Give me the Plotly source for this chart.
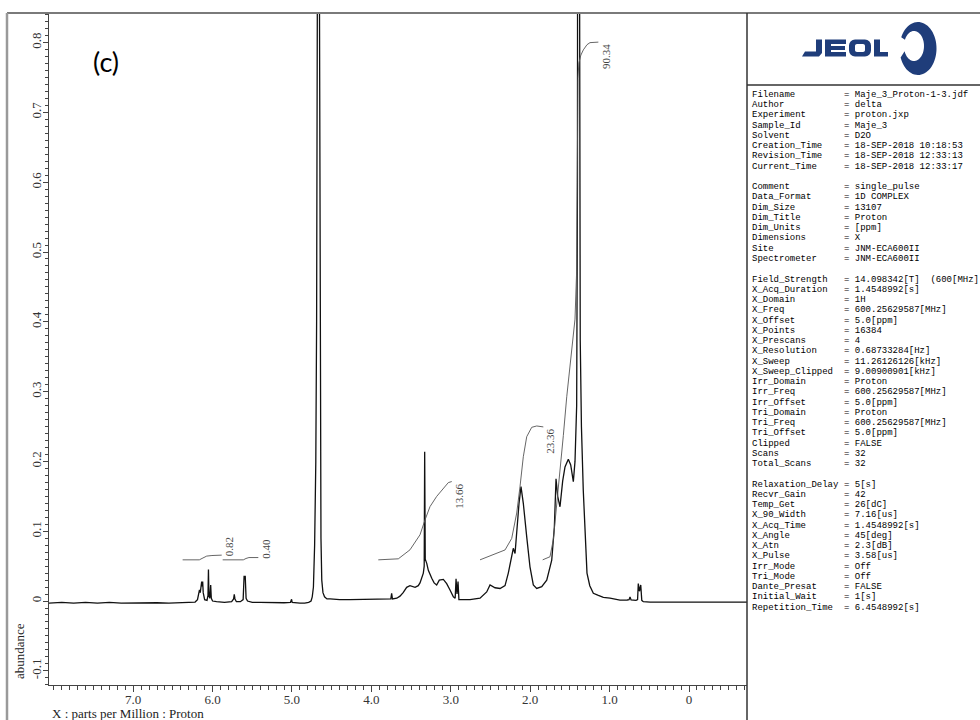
import numpy as np
import plotly.graph_objects as go

# ---------------------------------------------------------------- data
# 1H spectrum (ppm, abundance)
spectrum = [
    (8.06, -0.003), (7.9, -0.002), (7.75, -0.003), (7.6, -0.002), (7.45, -0.003),
    (7.3, -0.002), (7.15, -0.003), (7.0, -0.0025), (6.85, -0.003), (6.7, -0.0025),
    (6.55, -0.003), (6.4, -0.0025), (6.3, -0.002), (6.22, -0.0015), (6.19, 0.002),
    (6.175, 0.012), (6.165, 0.016), (6.155, 0.012), (6.145, 0.022), (6.137, 0.028),
    (6.131, 0.021), (6.125, 0.028), (6.118, 0.012), (6.10, 0.002), (6.07, 0.001),
    (6.058, 0.008), (6.052, 0.045), (6.046, 0.008), (6.035, 0.004), (6.024, 0.023),
    (6.016, 0.004), (6.0, 0.0), (5.95, -0.001), (5.85, -0.002), (5.76, -0.001),
    (5.735, 0.003), (5.727, 0.0095), (5.718, 0.003), (5.70, -0.001), (5.65, -0.001),
    (5.615, 0.002), (5.603, 0.036), (5.596, 0.031), (5.589, 0.036), (5.578, 0.004),
    (5.56, 0.0), (5.5, -0.002), (5.4, -0.002), (5.3, -0.0025), (5.2, -0.002),
    (5.1, -0.0025), (5.02, -0.002), (5.005, 0.0025), (4.998, -0.002), (4.95, -0.003),
    (4.9, -0.003), (4.84, -0.003), (4.79, -0.002), (4.76, 0.0), (4.745, 0.006),
    (4.73, 0.02), (4.715, 0.08), (4.70, 0.2), (4.69, 0.4), (4.68, 0.9),
    (4.665, 3.0), (4.655, 0.9), (4.645, 0.3), (4.635, 0.09), (4.625, 0.03),
    (4.61, 0.012), (4.59, 0.006), (4.56, 0.003), (4.52, 0.003), (4.4, 0.002),
    (4.27, 0.002), (4.1, 0.002), (3.95, 0.002), (3.83, 0.002), (3.766, 0.003),
    (3.755, 0.003), (3.745, 0.011), (3.735, 0.003), (3.68, 0.004), (3.64, 0.007),
    (3.60, 0.012), (3.556, 0.0196), (3.514, 0.022), (3.476, 0.021), (3.45, 0.0196),
    (3.41, 0.022), (3.388, 0.026), (3.346, 0.040), (3.335, 0.05), (3.329, 0.214),
    (3.322, 0.06), (3.303, 0.054), (3.283, 0.044), (3.24, 0.0325), (3.21, 0.026),
    (3.178, 0.023), (3.145, 0.030), (3.094, 0.031), (3.052, 0.025), (3.01, 0.0158),
    (2.968, 0.006), (2.945, 0.004), (2.934, 0.032), (2.922, 0.01), (2.909, 0.028),
    (2.898, 0.002), (2.884, 0.002), (2.758, 0.002), (2.632, 0.004), (2.548, 0.013),
    (2.506, 0.023), (2.443, 0.019), (2.38, 0.018), (2.317, 0.022), (2.276, 0.04),
    (2.233, 0.068), (2.213, 0.0755), (2.191, 0.068), (2.17, 0.10), (2.141, 0.14),
    (2.116, 0.164), (2.087, 0.14), (2.044, 0.092), (2.003, 0.049), (1.961, 0.023),
    (1.918, 0.018), (1.855, 0.0205), (1.792, 0.030), (1.729, 0.0587), (1.696, 0.106),
    (1.675, 0.175), (1.654, 0.150), (1.625, 0.135), (1.591, 0.172), (1.562, 0.192),
    (1.52, 0.203), (1.49, 0.195), (1.457, 0.171), (1.436, 0.20), (1.415, 0.28),
    (1.405, 0.6), (1.395, 3.0), (1.38, 1.0), (1.37, 0.374), (1.355, 0.25),
    (1.332, 0.159), (1.31, 0.10), (1.30, 0.06), (1.285, 0.04), (1.25, 0.022),
    (1.205, 0.011), (1.142, 0.008), (1.079, 0.0053), (0.995, 0.004), (0.87, 0.0014),
    (0.78, 0.0015), (0.755, 0.002), (0.743, 0.006), (0.73, 0.0015), (0.668, 0.001),
    (0.648, 0.002), (0.639, 0.025), (0.624, 0.014), (0.608, 0.023), (0.595, 0.001),
    (0.576, -0.001), (0.49, -0.0015), (0.3, -0.0015), (0.0, -0.0015), (-0.3, -0.0015),
    (-0.73, -0.0015),
]

# integrals: stated value, ppm positions and the normalised running shape
integral_values = [0.82, 0.40, 13.66, 23.36, 90.34]
integral_ppm = [
    [6.377, 6.167, 6.121, 6.074, 6.008, 5.885],
    [5.873, 5.613, 5.579, 5.542, 5.424],
    [3.913, 3.661, 3.514, 3.388, 3.325, 3.262, 3.178, 3.094, 3.031, 2.988],
    [2.632, 2.465, 2.317, 2.233, 2.17, 2.128, 2.087, 2.044, 1.981, 1.918, 1.835],
    [1.843, 1.751, 1.709, 1.666, 1.625, 1.583, 1.54, 1.499, 1.457, 1.436,
     1.417, 1.405, 1.399, 1.387, 1.362, 1.331, 1.285, 1.247, 1.142],
]
integral_shape = [
    [0, 0, 0.4, 0.8, 0.92, 1.0],
    [0, 0, 0.6, 1.0, 1.0],
    [0, 0.013, 0.128, 0.32, 0.51, 0.68, 0.81, 0.915, 0.987, 1.0],
    [0, 0.037, 0.074, 0.16, 0.35, 0.55, 0.77, 0.92, 0.99, 1.0, 0.993],
    [0, 0.006, 0.039, 0.103, 0.164, 0.24, 0.315, 0.38, 0.44, 0.465,
     0.55, 0.8, 0.93, 0.96, 0.975, 0.985, 0.995, 0.999, 1.0],
]
integral_base = 0.059        # abundance level where integral traces start
integral_scale = 0.00821     # abundance per integral unit

x_tick_vals = [7.0, 6.0, 5.0, 4.0, 3.0, 2.0, 1.0, 0.0]
x_tick_text = ["7.0", "6.0", "5.0", "4.0", "3.0", "2.0", "1.0", "0"]
y_tick_vals = [-0.1, 0.0, 0.1, 0.2, 0.3, 0.4, 0.5, 0.6, 0.7, 0.8]
y_tick_text = ["-0.1", "0", "0.1", "0.2", "0.3", "0.4", "0.5", "0.6", "0.7", "0.8"]

# acquisition parameters, in their printed groups
params_file = [
    ("Filename", "Maje_3_Proton-1-3.jdf"),
    ("Author", "delta"),
    ("Experiment", "proton.jxp"),
    ("Sample_Id", "Maje_3"),
    ("Solvent", "D2O"),
    ("Creation_Time", "18-SEP-2018 10:18:53"),
    ("Revision_Time", "18-SEP-2018 12:33:13"),
    ("Current_Time", "18-SEP-2018 12:33:17"),
]
params_data = [
    ("Comment", "single_pulse"),
    ("Data_Format", "1D COMPLEX"),
    ("Dim_Size", "13107"),
    ("Dim_Title", "Proton"),
    ("Dim_Units", "[ppm]"),
    ("Dimensions", "X"),
    ("Site", "JNM-ECA600II"),
    ("Spectrometer", "JNM-ECA600II"),
]
params_acq = [
    ("Field_Strength", "14.098342[T]\u00a0\u00a0(600[MHz]"),
    ("X_Acq_Duration", "1.4548992[s]"),
    ("X_Domain", "1H"),
    ("X_Freq", "600.25629587[MHz]"),
    ("X_Offset", "5.0[ppm]"),
    ("X_Points", "16384"),
    ("X_Prescans", "4"),
    ("X_Resolution", "0.68733284[Hz]"),
    ("X_Sweep", "11.26126126[kHz]"),
    ("X_Sweep_Clipped", "9.00900901[kHz]"),
    ("Irr_Domain", "Proton"),
    ("Irr_Freq", "600.25629587[MHz]"),
    ("Irr_Offset", "5.0[ppm]"),
    ("Tri_Domain", "Proton"),
    ("Tri_Freq", "600.25629587[MHz]"),
    ("Tri_Offset", "5.0[ppm]"),
    ("Clipped", "FALSE"),
    ("Scans", "32"),
    ("Total_Scans", "32"),
]
params_pulse = [
    ("Relaxation_Delay", "5[s]"),
    ("Recvr_Gain", "42"),
    ("Temp_Get", "26[dC]"),
    ("X_90_Width", "7.16[us]"),
    ("X_Acq_Time", "1.4548992[s]"),
    ("X_Angle", "45[deg]"),
    ("X_Atn", "2.3[dB]"),
    ("X_Pulse", "3.58[us]"),
    ("Irr_Mode", "Off"),
    ("Tri_Mode", "Off"),
    ("Dante_Presat", "FALSE"),
    ("Initial_Wait", "1[s]"),
    ("Repetition_Time", "6.4548992[s]"),
]

# ---------------------------------------------------------------- layout geometry
W, H = 980, 720
PLOT_L, PLOT_R, PLOT_T, PLOT_B = 49, 747, 13, 685
X_RANGE = [8.06, -0.73]
Y_RANGE = [-0.1203, 0.8424]

SERIF = "Liberation Serif, Times New Roman, serif"
MONO = "Liberation Mono, Courier New, monospace"
NAVY = "#1f3d7a"


def fx(px):
    return (px - PLOT_L) / (PLOT_R - PLOT_L)


def fy(py):
    return (PLOT_B - py) / (PLOT_B - PLOT_T)


def path_from_pixels(points):
    parts = []
    for i, (px, py) in enumerate(points):
        parts.append(("M" if i == 0 else "L") + f"{fx(px):.5f},{fy(py):.5f}")
    return " ".join(parts) + " Z"


fig = go.Figure()

ppm, abundance = zip(*spectrum)
fig.add_trace(go.Scatter(x=list(ppm), y=list(abundance), mode="lines",
                         line=dict(color="#111111", width=1.3),
                         hoverinfo="skip"))

annotations = []
for value, xs, shape in zip(integral_values, integral_ppm, integral_shape):
    ys = [integral_base + f * value * integral_scale for f in shape]
    fig.add_trace(go.Scatter(x=xs, y=ys, mode="lines",
                             line=dict(color="#555555", width=0.9),
                             hoverinfo="skip"))
    annotations.append(dict(
        x=xs[-1], y=ys[-1], xref="x", yref="y", text=f"{value:.2f}",
        showarrow=False, textangle=-90, xanchor="center",
        yanchor="bottom" if value < 1 else "top", xshift=7,
        yshift=-3 if value < 1 else 0,
        font=dict(family=SERIF, size=11, color="#444444")))

# ---------------------------------------------------------------- texts
annotations.append(dict(x=fx(91), y=fy(62), xref="paper", yref="paper",
                        text="(c)", showarrow=False, xanchor="left",
                        yanchor="middle",
                        font=dict(family="Lato, Open Sans, sans-serif",
                                  size=27, color="#000000")))
annotations.append(dict(x=fx(50), y=fy(713), xref="paper", yref="paper",
                        text="X : parts per Million : Proton", showarrow=False,
                        xanchor="left", yanchor="middle",
                        font=dict(family=SERIF, size=13, color="#222222")))
annotations.append(dict(x=fx(19), y=fy(651), xref="paper", yref="paper",
                        text="abundance", showarrow=False, textangle=-90,
                        xanchor="center", yanchor="middle",
                        font=dict(family=SERIF, size=13, color="#222222")))

line_step = 10.25
line_y0 = 95.0
row = 0
for group in (params_file, params_data, params_acq, params_pulse):
    for key, val in group:
        py = line_y0 + row * line_step
        annotations.append(dict(x=fx(750), y=fy(py), xref="paper", yref="paper",
                                text=key, showarrow=False, xanchor="left",
                                yanchor="middle",
                                font=dict(family=MONO, size=9, color="#000000")))
        annotations.append(dict(x=fx(842), y=fy(py), xref="paper", yref="paper",
                                text="= " + val, showarrow=False, xanchor="left",
                                yanchor="middle",
                                font=dict(family=MONO, size=9, color="#000000")))
        row += 1
    row += 1

# ---------------------------------------------------------------- frame & logo
shapes = [
    dict(type="line", xref="paper", yref="paper", x0=fx(7), x1=fx(980),
         y0=fy(13), y1=fy(13), line=dict(color="#7a7a7a", width=2)),
    dict(type="line", xref="paper", yref="paper", x0=fx(7), x1=fx(7),
         y0=fy(13), y1=fy(720), line=dict(color="#9a9a9a", width=2.5)),
    dict(type="line", xref="paper", yref="paper", x0=fx(747), x1=fx(747),
         y0=fy(13), y1=fy(720), line=dict(color="#333333", width=1.5)),
    dict(type="line", xref="paper", yref="paper", x0=fx(747), x1=fx(980),
         y0=fy(85), y1=fy(85), line=dict(color="#333333", width=1.5)),
]

logo_letters = [
    # J
    [(816, 39.5), (822, 39.5), (822, 53), (819, 56.5), (802, 56.5), (805, 51.5), (816, 51.5)],
    # E
    [(825, 39.5), (846, 39.5), (846, 44), (831, 44), (831, 46), (845, 46), (845, 50),
     (831, 50), (831, 52), (846, 52), (846, 56.5), (825, 56.5)],
    # L
    [(874, 39.5), (880, 39.5), (880, 52), (888, 52), (888, 56.5), (874, 56.5)],
]
for poly in logo_letters:
    shapes.append(dict(type="path", xref="paper", yref="paper",
                       path=path_from_pixels(poly), fillcolor=NAVY,
                       line=dict(width=0)))


def rounded_rect(x0, y0, x1, y1, r, reverse=False):
    pts = []
    corners = [(x1 - r, y0 + r, -90, 0), (x1 - r, y1 - r, 0, 90),
               (x0 + r, y1 - r, 90, 180), (x0 + r, y0 + r, 180, 270)]
    for cx, cy, a0, a1 in corners:
        for a in np.linspace(a0, a1, 5):
            pts.append((cx + r * np.cos(np.radians(a)), cy + r * np.sin(np.radians(a))))
    return pts[::-1] if reverse else pts


o_outer = rounded_rect(849, 39.5, 871, 56.5, 6)
o_inner = rounded_rect(855, 44, 865, 52, 2, reverse=True)
shapes.append(dict(type="path", xref="paper", yref="paper",
                   path=path_from_pixels(o_outer) + " " + path_from_pixels(o_inner),
                   fillcolor=NAVY, line=dict(width=0)))

# swirl mark: open ring, thin at the upper left, heavy on the right
t_out = np.radians(np.linspace(155, -160, 60))
t_in = np.radians(np.linspace(-160, 155, 60))
ring = [(918 + 18.5 * np.cos(t), 48.5 - 26.5 * np.sin(t)) for t in t_out]
ring += [(914 + 10 * np.cos(t), 46 - 15 * np.sin(t)) for t in t_in]
shapes.append(dict(type="path", xref="paper", yref="paper",
                   path=path_from_pixels(ring), fillcolor=NAVY,
                   line=dict(width=0)))

# ---------------------------------------------------------------- axes
axis_common = dict(showgrid=False, zeroline=False, showline=True,
                   linecolor="#444444", linewidth=1, ticks="outside",
                   tickcolor="#444444", tickwidth=1, tickmode="array",
                   tickfont=dict(family=SERIF, size=13, color="#333333"))

fig.update_layout(
    width=W, height=H, autosize=False,
    margin=dict(l=PLOT_L, r=W - PLOT_R, t=PLOT_T, b=H - PLOT_B, pad=0),
    paper_bgcolor="white", plot_bgcolor="white",
    showlegend=False, hovermode=False,
    xaxis=dict(range=X_RANGE, tickvals=x_tick_vals, ticktext=x_tick_text,
               ticklen=6, ticklabelstandoff=-4,
               minor=dict(tickmode="linear", tick0=0, dtick=0.1, ticklen=4,
                          ticks="outside", tickcolor="#444444"),
               **axis_common),
    yaxis=dict(range=Y_RANGE, tickvals=y_tick_vals, ticktext=y_tick_text,
               ticklen=5, tickangle=-90, ticklabelstandoff=-3,
               minor=dict(tickmode="linear", tick0=0, dtick=0.01, ticklen=3,
                          ticks="outside", tickcolor="#444444"),
               **axis_common),
    annotations=annotations,
    shapes=shapes,
)

fig.write_html("out.html")
